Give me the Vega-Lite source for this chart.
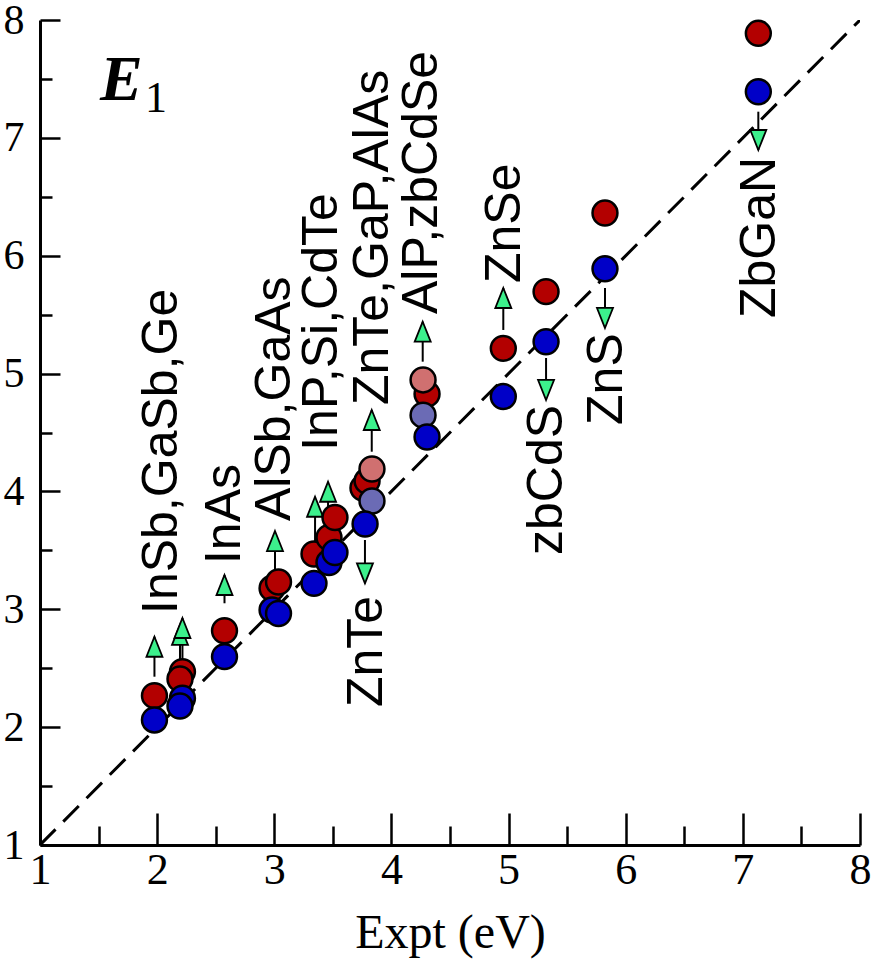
{
  "$schema": "https://vega.github.io/schema/vega-lite/v6.json",
  "autosize": "none",
  "width": 820,
  "height": 825,
  "padding": {"left": 40, "top": 20, "right": 15, "bottom": 118},
  "background": "white",
  "config": {"view": {"stroke": null}},
  "datasets": {
    "diag": [{"x": 1, "y": 1}, {"x": 8, "y": 8}],
    "pts": [
      {"mat": "InSb", "x": 1.977, "y": 2.267, "s": "calcA"},
      {"mat": "Ge", "x": 2.216, "y": 2.470, "s": "calcA"},
      {"mat": "GaSb", "x": 2.195, "y": 2.408, "s": "calcA"},
      {"mat": "InAs", "x": 2.575, "y": 2.818, "s": "calcA"},
      {"mat": "AlSb", "x": 2.981, "y": 3.178, "s": "calcA"},
      {"mat": "GaAs", "x": 3.036, "y": 3.231, "s": "calcA"},
      {"mat": "InP", "x": 3.339, "y": 3.469, "s": "calcA"},
      {"mat": "Si", "x": 3.467, "y": 3.609, "s": "calcA"},
      {"mat": "CdTe", "x": 3.518, "y": 3.779, "s": "calcA"},
      {"mat": "ZnTe", "x": 3.757, "y": 4.029, "s": "calcA"},
      {"mat": "GaP", "x": 3.792, "y": 4.088, "s": "calcA"},
      {"mat": "AlP", "x": 4.304, "y": 4.827, "s": "calcA"},
      {"mat": "ZnSe", "x": 4.955, "y": 5.214, "s": "calcA"},
      {"mat": "zbCdS", "x": 5.320, "y": 5.695, "s": "calcA"},
      {"mat": "ZnS", "x": 5.823, "y": 6.362, "s": "calcA"},
      {"mat": "ZbGaN", "x": 7.132, "y": 7.887, "s": "calcA"},
      {"mat": "AlAs", "x": 3.834, "y": 3.919, "s": "calcD"},
      {"mat": "zbCdSe", "x": 4.270, "y": 4.647, "s": "calcD"},
      {"mat": "InSb", "x": 1.977, "y": 2.061, "s": "calcB"},
      {"mat": "Ge", "x": 2.216, "y": 2.245, "s": "calcB"},
      {"mat": "GaSb", "x": 2.195, "y": 2.179, "s": "calcB"},
      {"mat": "InAs", "x": 2.575, "y": 2.598, "s": "calcB"},
      {"mat": "AlSb", "x": 2.981, "y": 2.994, "s": "calcB"},
      {"mat": "GaAs", "x": 3.036, "y": 2.964, "s": "calcB"},
      {"mat": "InP", "x": 3.339, "y": 3.220, "s": "calcB"},
      {"mat": "Si", "x": 3.467, "y": 3.397, "s": "calcB"},
      {"mat": "CdTe", "x": 3.518, "y": 3.482, "s": "calcB"},
      {"mat": "ZnTe", "x": 3.775, "y": 3.724, "s": "calcB"},
      {"mat": "AlP", "x": 4.304, "y": 4.462, "s": "calcB"},
      {"mat": "ZnSe", "x": 4.955, "y": 4.805, "s": "calcB"},
      {"mat": "zbCdS", "x": 5.320, "y": 5.270, "s": "calcB"},
      {"mat": "ZnS", "x": 5.823, "y": 5.889, "s": "calcB"},
      {"mat": "ZbGaN", "x": 7.132, "y": 7.391, "s": "calcB"},
      {"mat": "AlAs", "x": 3.834, "y": 4.190, "s": "calcC"},
      {"mat": "zbCdSe", "x": 4.270, "y": 4.946, "s": "calcC"}
    ],
    "arrows": [
      {"x": 1.977, "y": 2.428, "tip": 2.767, "dir": "up"},
      {"x": 2.195, "y": 2.527, "tip": 2.867, "dir": "up"},
      {"x": 2.216, "y": 2.527, "tip": 2.926, "dir": "up"},
      {"x": 2.575, "y": 3.051, "tip": 3.291, "dir": "up"},
      {"x": 3.006, "y": 3.316, "tip": 3.664, "dir": "up"},
      {"x": 3.348, "y": 3.545, "tip": 3.955, "dir": "up"},
      {"x": 3.459, "y": 3.757, "tip": 4.082, "dir": "up"},
      {"x": 3.832, "y": 4.337, "tip": 4.691, "dir": "up"},
      {"x": 3.774, "y": 3.588, "tip": 3.220, "dir": "down"},
      {"x": 4.267, "y": 5.101, "tip": 5.440, "dir": "up"},
      {"x": 4.955, "y": 5.370, "tip": 5.726, "dir": "up"},
      {"x": 5.320, "y": 5.132, "tip": 4.776, "dir": "down"},
      {"x": 5.823, "y": 5.726, "tip": 5.387, "dir": "down"},
      {"x": 7.132, "y": 7.222, "tip": 6.897, "dir": "down"}
    ],
    "labels": [
      {"text": "InSb,GaSb,Ge", "x": 2.167, "y": 2.960},
      {"text": "InAs", "x": 2.707, "y": 3.384},
      {"text": "AlSb,GaAs", "x": 3.134, "y": 3.749},
      {"text": "InP,Si,CdTe", "x": 3.535, "y": 4.345},
      {"text": "ZnTe,GaP,AlAs", "x": 3.971, "y": 4.733},
      {"text": "AlP,zbCdSe", "x": 4.387, "y": 5.505},
      {"text": "ZnSe", "x": 5.098, "y": 5.768},
      {"text": "zbCdS", "x": 5.454, "y": 3.461},
      {"text": "ZnS", "x": 5.966, "y": 4.564},
      {"text": "ZnTe", "x": 3.917, "y": 2.171},
      {"text": "ZbGaN", "x": 7.275, "y": 5.471}
    ],
    "panel": [
      {"text": "E", "x": 1.512, "y": 7.321}
    ],
    "sub": [
      {"text": "1", "x": 1.896, "y": 7.219}
    ]
  },
  "encoding": {
    "x": {
      "field": "x", "type": "quantitative",
      "scale": {"domain": [1, 8], "nice": false, "zero": false},
      "axis": {
        "values": [1, 1.5, 2, 2.5, 3, 3.5, 4, 4.5, 5, 5.5, 6, 6.5, 7, 7.5, 8],
        "labelExpr": "datum.value % 1 === 0 ? format(datum.value, 'd') : ''",
        "tickSize": {"condition": {"test": "datum.value % 1 !== 0", "value": -19}, "value": -32},
        "tickWidth": 2.5, "tickColor": "black",
        "domainWidth": 3, "domainColor": "black",
        "labelFont": "Liberation Serif", "labelFontSize": 44, "labelColor": "black",
        "labelPadding": 35, "labelFlush": false, "labelOverlap": false,
        "grid": false,
        "title": "Expt (eV)", "titleFont": "Liberation Serif", "titleFontSize": 48,
        "titleFontWeight": "normal", "titleColor": "black", "titlePadding": 4
      }
    },
    "y": {
      "field": "y", "type": "quantitative",
      "scale": {"domain": [1, 8], "nice": false, "zero": false},
      "axis": {
        "values": [1, 1.5, 2, 2.5, 3, 3.5, 4, 4.5, 5, 5.5, 6, 6.5, 7, 7.5, 8],
        "labelExpr": "datum.value % 1 === 0 ? format(datum.value, 'd') : ''",
        "tickSize": {"condition": {"test": "datum.value % 1 !== 0", "value": -12}, "value": -20},
        "tickWidth": 2.5, "tickColor": "black",
        "domainWidth": 3, "domainColor": "black",
        "labelFont": "Liberation Serif", "labelFontSize": 42, "labelColor": "black",
        "labelPadding": 36, "labelFlush": false, "labelOverlap": false,
        "grid": false, "title": null
      }
    }
  },
  "layer": [
    {
      "data": {"name": "diag"},
      "mark": {"type": "line", "color": "black", "strokeWidth": 3, "strokeDash": [22, 11], "clip": true}
    },
    {
      "data": {"name": "arrows"},
      "mark": {"type": "rule", "color": "black", "strokeWidth": 2},
      "encoding": {"y2": {"field": "tip"}}
    },
    {
      "data": {"name": "arrows"},
      "mark": {"type": "point", "filled": true, "fill": "#3CF08C", "stroke": "black", "strokeWidth": 1.8, "size": 1600, "opacity": 1},
      "encoding": {
        "y": {"field": "tip", "type": "quantitative"},
        "shape": {"field": "dir", "type": "nominal", "legend": null,
          "scale": {"domain": ["up", "down"], "range": ["M0,0L0.4,1L-0.4,1Z", "M0,0L0.4,-1L-0.4,-1Z"]}}
      }
    },
    {
      "data": {"name": "pts"},
      "mark": {"type": "circle", "size": 620, "stroke": "black", "strokeWidth": 2.5, "opacity": 1},
      "encoding": {
        "fill": {"field": "s", "type": "nominal", "legend": null,
          "scale": {"domain": ["calcA", "calcB", "calcC", "calcD"], "range": ["#B30000", "#0000C8", "#D07070", "#6B6BB5"]}}
      }
    },
    {
      "data": {"name": "labels"},
      "mark": {"type": "text", "angle": 270, "align": "left", "baseline": "alphabetic", "font": "Liberation Sans", "fontSize": 50, "color": "black"},
      "encoding": {"text": {"field": "text"}}
    },
    {
      "data": {"name": "panel"},
      "mark": {"type": "text", "align": "left", "baseline": "alphabetic", "font": "Liberation Serif", "fontSize": 64, "fontStyle": "italic", "fontWeight": "bold", "color": "black"},
      "encoding": {"text": {"field": "text"}}
    },
    {
      "data": {"name": "sub"},
      "mark": {"type": "text", "align": "left", "baseline": "alphabetic", "font": "Liberation Serif", "fontSize": 44, "color": "black"},
      "encoding": {"text": {"field": "text"}}
    }
  ]
}
